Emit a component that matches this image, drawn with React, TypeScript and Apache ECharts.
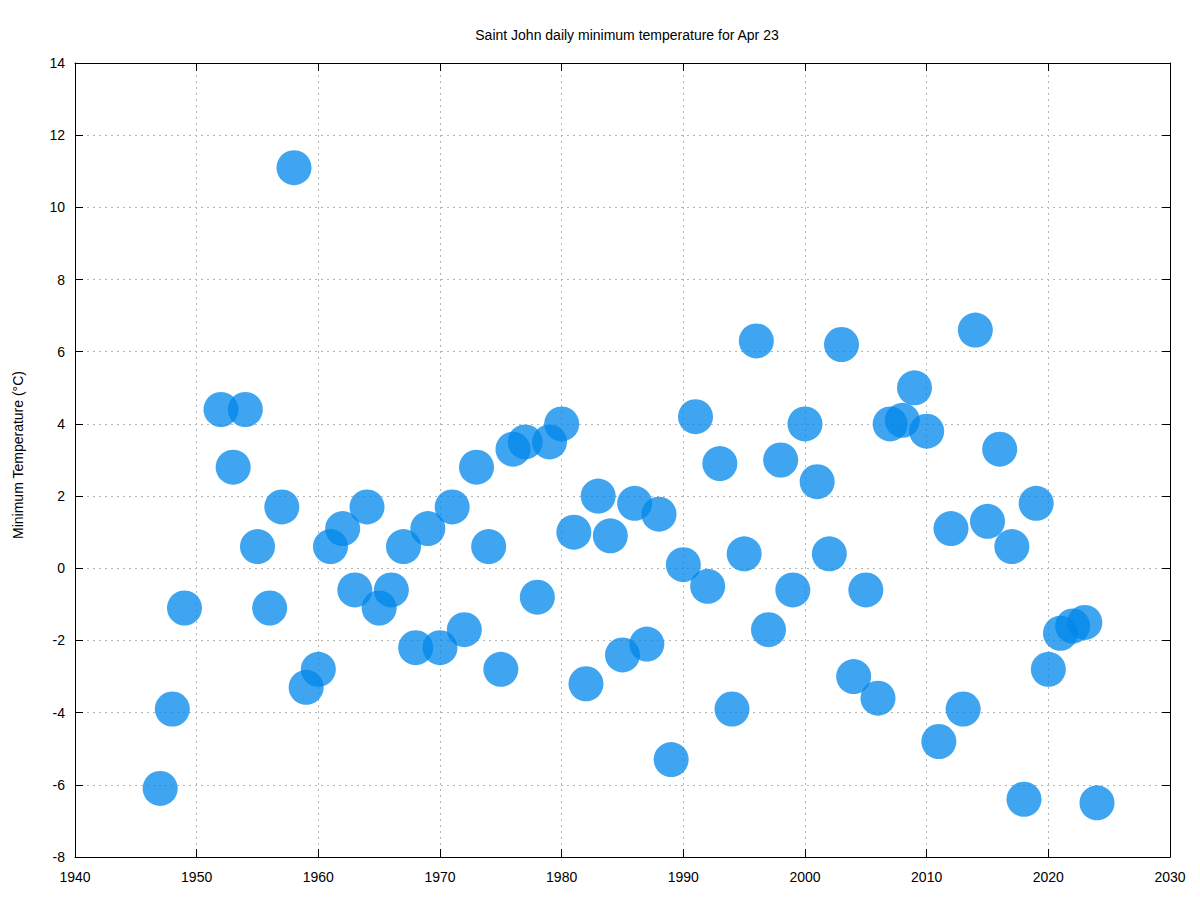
import React, { useEffect, useRef } from "react";
import * as echarts from "echarts";

const years: number[] = [
  1947, 1948, 1949, 1952, 1953, 1954, 1955, 1956, 1957, 1958, 1959, 1960,
  1961, 1962, 1963, 1964, 1965, 1966, 1967, 1968, 1969, 1970, 1971, 1972,
  1973, 1974, 1975, 1976, 1977, 1978, 1979, 1980, 1981, 1982, 1983, 1984,
  1985, 1986, 1987, 1988, 1989, 1990, 1991, 1992, 1993, 1994, 1995, 1996,
  1997, 1998, 1999, 2000, 2001, 2002, 2003, 2004, 2005, 2006, 2007, 2008,
  2009, 2010, 2011, 2012, 2013, 2014, 2015, 2016, 2017, 2018, 2019, 2020,
  2021, 2022, 2023, 2024,
];

const minTemps: number[] = [
  -6.1, -3.9, -1.1, 4.4, 2.8, 4.4, 0.6, -1.1, 1.7, 11.1, -3.3, -2.8,
  0.6, 1.1, -0.6, 1.7, -1.1, -0.6, 0.6, -2.2, 1.1, -2.2, 1.7, -1.7,
  2.8, 0.6, -2.8, 3.3, 3.5, -0.8, 3.5, 4.0, 1.0, -3.2, 2.0, 0.9,
  -2.4, 1.8, -2.1, 1.5, -5.3, 0.1, 4.2, -0.5, 2.9, -3.9, 0.4, 6.3,
  -1.7, 3.0, -0.6, 4.0, 2.4, 0.4, 6.2, -3.0, -0.6, -3.6, 4.0, 4.1,
  5.0, 3.8, -4.8, 1.1, -3.9, 6.6, 1.3, 3.3, 0.6, -6.4, 1.8, -2.8,
  -1.8, -1.6, -1.5, -6.5,
];

const X_MIN = 1940;
const X_MAX = 2030;
const X_STEP = 10;
const Y_MIN = -8;
const Y_MAX = 14;
const Y_STEP = 2;

const TITLE = "Saint John daily minimum temperature for Apr 23";
const Y_NAME = "Minimum Temperature (°C)";

const FONT = "'Liberation Sans', Arial, Helvetica, sans-serif";

export default function App() {
  const ref = useRef<HTMLDivElement>(null);

  useEffect(() => {
    if (!ref.current) return;
    const chart = echarts.init(ref.current, undefined, { renderer: "svg" });

    const gridLine = {
      show: true,
      lineStyle: { color: "#b4b4b4", width: 1, type: [2, 4] as any },
    };
    const axisLine = { show: true, onZero: false, lineStyle: { color: "#000", width: 1 } };
    const tick = { show: true, inside: true, length: 8, lineStyle: { color: "#000", width: 1 } };

    chart.setOption({
      animation: false,
      backgroundColor: "#fff",
      textStyle: { fontFamily: FONT },
      title: {
        text: TITLE,
        left: 622,
        textAlign: "center",
        top: 23,
        textStyle: { fontSize: 14, fontWeight: "normal", color: "#000", fontFamily: FONT },
      },
      grid: { left: 75, right: 30, top: 63, bottom: 43, containLabel: false },
      xAxis: [
        {
          type: "value",
          min: X_MIN,
          max: X_MAX,
          interval: X_STEP,
          axisLine,
          axisTick: tick,
          splitLine: gridLine,
          axisLabel: {
            color: "#000",
            fontSize: 14,
            margin: 13,
            fontFamily: FONT,
            formatter: (v: number) => String(v),
          },
        },
        {
          type: "value",
          position: "top",
          min: X_MIN,
          max: X_MAX,
          interval: X_STEP,
          axisLine,
          axisTick: tick,
          splitLine: { show: false },
          axisLabel: { show: false },
        },
      ],
      yAxis: [
        {
          type: "value",
          min: Y_MIN,
          max: Y_MAX,
          interval: Y_STEP,
          name: Y_NAME,
          nameLocation: "middle",
          nameGap: 50,
          nameRotate: 90,
          nameTextStyle: { color: "#000", fontSize: 14, fontFamily: FONT, padding: [0, 0, 0, 10] },
          axisLine,
          axisTick: tick,
          splitLine: gridLine,
          axisLabel: {
            color: "#000",
            fontSize: 14,
            margin: 10,
            fontFamily: FONT,
            formatter: (v: number) => String(v),
          },
        },
        {
          type: "value",
          position: "right",
          min: Y_MIN,
          max: Y_MAX,
          interval: Y_STEP,
          axisLine,
          axisTick: tick,
          splitLine: { show: false },
          axisLabel: { show: false },
        },
      ],
      series: [
        {
          type: "scatter",
          xAxisIndex: 0,
          yAxisIndex: 0,
          symbol: "circle",
          symbolSize: 35,
          itemStyle: { color: "rgb(0,135,235)", opacity: 0.75 },
          data: years.map((y, i) => [y, minTemps[i]]),
        },
      ],
    });

    return () => chart.dispose();
  }, []);

  return (
    <div
      ref={ref}
      style={{ position: "fixed", left: 0, top: 0, width: 1200, height: 900 }}
    />
  );
}
